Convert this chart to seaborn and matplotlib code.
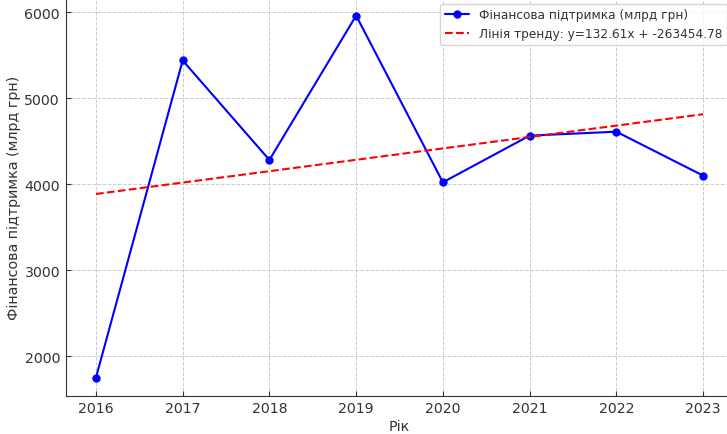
import matplotlib
matplotlib.use("Agg")
import matplotlib.pyplot as plt
import seaborn as sns
import numpy as np
import pandas as pd

years = [2016, 2017, 2018, 2019, 2020, 2021, 2022, 2023]
support = [1750, 5441, 4283, 5963, 4023, 4566, 4612, 4101]
trend_slope = 132.61
trend_intercept = -263454.78
series_label = "Фінансова підтримка (млрд грн)"
x_label = "Рік"
y_label = "Фінансова підтримка (млрд грн)"

sns.set_style("ticks", {
    "axes.grid": True,
    "grid.linestyle": "--",
    "grid.color": "#cccccc",
    "axes.edgecolor": "#333333",
})
plt.rcParams["font.family"] = ["DejaVu Sans"]

df = pd.DataFrame({"year": years, "value": support})
trend_df = pd.DataFrame({
    "year": years,
    "trend": [trend_slope * y + trend_intercept for y in years],
})

fig = plt.figure(figsize=(7.27, 4.35), dpi=100)
ax = fig.add_axes([65.6 / 727, 38.3 / 435, (733.4 - 65.6) / 727, (435 - 38.3 + 1.5) / 435])

sns.lineplot(data=df, x="year", y="value", ax=ax, color="#0000ff", marker="o",
             markersize=6, markeredgewidth=0, linewidth=1.5, label=series_label)
sns.lineplot(data=trend_df, x="year", y="trend", ax=ax, color="#ff0000",
             linestyle="--", linewidth=1.5,
             label=f"Лінія тренду: y={trend_slope:.2f}x + {trend_intercept:.2f}")

ax.set_xticks(years)
ax.set_xlabel(x_label, fontsize=10.3, color="#333333", labelpad=3)
ax.set_ylabel(y_label, fontsize=10.3, color="#333333", labelpad=2.5)
ax.tick_params(axis="both", labelsize=10.2, colors="#333333", length=3.5,
               direction="in", pad=4)
ax.grid(True, linestyle="--", color="#cccccc", linewidth=0.7)
sns.despine(ax=ax)

leg = ax.legend(loc="upper right", fontsize=8.7, frameon=True, fancybox=True)
leg.get_frame().set_edgecolor("#cccccc")
for t in leg.get_texts():
    t.set_color("#333333")

fig.savefig("out.png", dpi=100)
